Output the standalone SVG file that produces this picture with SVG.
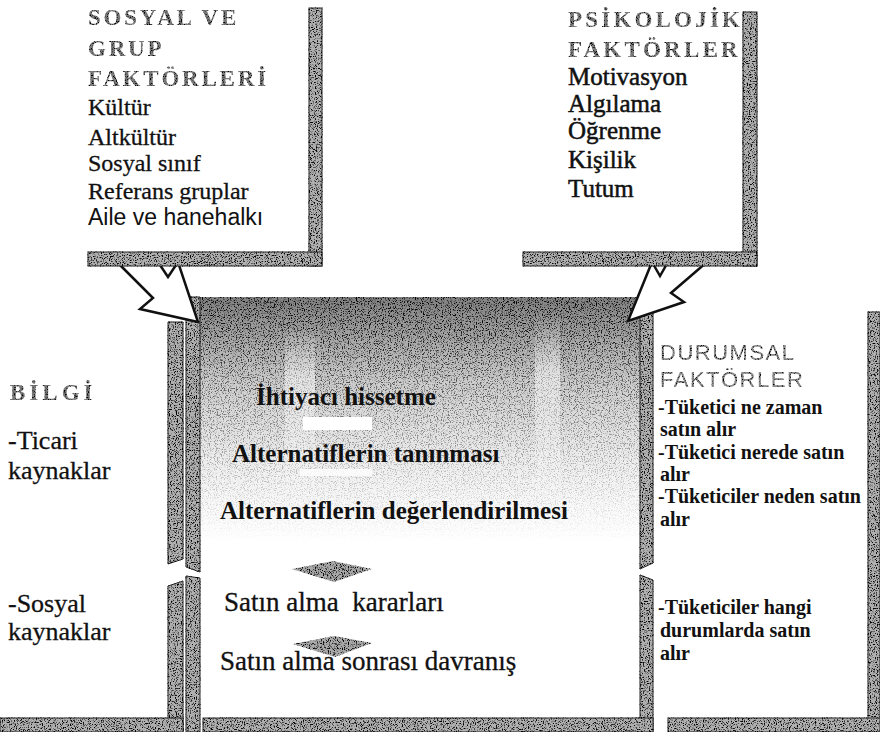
<svg xmlns="http://www.w3.org/2000/svg" width="880" height="732" viewBox="0 0 880 732">
  <defs>
    <!-- salt-and-pepper print texture for the shaded frames -->
    <filter id="grain" x="-5%" y="-5%" width="110%" height="110%" color-interpolation-filters="sRGB">
      <feTurbulence type="fractalNoise" baseFrequency="0.85" numOctaves="2" seed="4" result="noise"/>
      <feColorMatrix in="noise" type="matrix" values="0 0 0 0 0  0 0 0 0 0  0 0 0 0 0  -5 0 0 0 2.45" result="dots"/>
      <feComposite in="dots" in2="SourceGraphic" operator="in" result="ink"/>
      <feMerge><feMergeNode in="SourceGraphic"/><feMergeNode in="ink"/></feMerge>
    </filter>
    <linearGradient id="fade" x1="0" y1="0" x2="0" y2="1">
      <stop offset="0" stop-color="#808080" stop-opacity="1"/>
      <stop offset="0.14" stop-color="#949494" stop-opacity="0.9"/>
      <stop offset="0.35" stop-color="#aaaaaa" stop-opacity="0.6"/>
      <stop offset="0.7" stop-color="#c0c0c0" stop-opacity="0.25"/>
      <stop offset="1" stop-color="#d0d0d0" stop-opacity="0"/>
    </linearGradient>
    <linearGradient id="streak" x1="0" y1="0" x2="0" y2="1">
      <stop offset="0" stop-color="#fff" stop-opacity="0"/>
      <stop offset="0.3" stop-color="#fff" stop-opacity="0.5"/>
      <stop offset="1" stop-color="#fff" stop-opacity="0"/>
    </linearGradient>
    <style>
      .bar { fill: #b0b0b0; stroke: #2a2a2a; stroke-width: 1; }
      .head { font-family: "Liberation Serif", "Times New Roman", serif; font-size: 23px; font-weight: bold; fill: #7a7a7a; }
      .shead { font-family: "Liberation Sans", Arial, sans-serif; font-size: 22px; fill: #8a8a8a; letter-spacing: 1.5px; }
      .item { font-family: "Liberation Serif", "Times New Roman", serif; fill: #111; }
      .sans { font-family: "Liberation Sans", Arial, sans-serif; fill: #111; }
      .thick { stroke: #111; stroke-width: 0.3px; }
      .dark { stroke: #111; stroke-width: 0.5px; }
      .arrow { fill: #fff; stroke: #111; stroke-width: 2.5; stroke-linejoin: miter; }
      .chev { fill: #a8a8a8; }
    </style>
  </defs>

  <rect width="880" height="732" fill="#fff"/>

  <!-- decision process (centre) -->
  <g id="karar-sureci">
    <g filter="url(#grain)">
      <rect x="188" y="297" width="465" height="245" fill="url(#fade)"/>
      <polygon class="bar" points="186,297 200,297 200,572 186,567"/>
      <polygon class="bar" points="186,576 200,578 200,732 186,732"/>
      <polygon class="bar" points="640,297 653,297 653,563 640,569"/>
      <polygon class="bar" points="640,575 653,580 653,732 640,732"/>
      <rect class="bar" x="203" y="718" width="450" height="14"/>
    </g>
    <rect x="285" y="325" width="30" height="180" fill="url(#streak)"/>
    <rect x="535" y="315" width="25" height="200" fill="url(#streak)"/>
    <rect x="303" y="417" width="69" height="13" fill="#fff"/>
    <rect x="300" y="469" width="72" height="7" fill="#fff" opacity="0.8"/>
    <g class="item" font-weight="bold">
      <text x="256" y="405" font-size="25">İhtiyacı hissetme</text>
      <text x="232" y="462" font-size="25">Alternatiflerin tanınması</text>
      <text x="220" y="519" font-size="25">Alternatiflerin değerlendirilmesi</text>
    </g>
    <text class="item thick" x="224" y="611" font-size="27" xml:space="preserve">Satın alma  kararları</text>
    <text class="item thick" x="220" y="670" font-size="27">Satın alma sonrası davranış</text>
  </g>

  <!-- information sources -->
  <g id="bilgi">
    <g filter="url(#grain)">
      <polygon class="bar" points="168,322 183,322 183,559 168,564"/>
      <polygon class="bar" points="168,586 183,581 183,732 168,732"/>
      <rect class="bar" x="0" y="718" width="183" height="14"/>
    </g>
    <text class="head" x="10" y="400" letter-spacing="4" filter="url(#grain)">BİLGİ</text>
    <g class="item thick" font-size="26">
      <text x="8" y="449">-Ticari</text>
      <text x="8" y="479">kaynaklar</text>
      <text x="8" y="612">-Sosyal</text>
      <text x="8" y="640">kaynaklar</text>
    </g>
  </g>

  <!-- situational factors -->
  <g id="durumsal">
    <g filter="url(#grain)">
      <rect class="bar" x="868" y="312" width="12" height="420"/>
      <rect class="bar" x="668" y="718" width="212" height="14"/>
    </g>
    <g filter="url(#grain)">
      <text class="shead" x="660" y="360">DURUMSAL</text>
      <text class="shead" x="660" y="387">FAKTÖRLER</text>
    </g>
    <g class="item" font-size="20" font-weight="bold">
      <text x="658" y="414">-Tüketici ne zaman</text>
      <text x="660" y="436">satın alır</text>
      <text x="658" y="459">-Tüketici nerede satın</text>
      <text x="660" y="481">alır</text>
      <text x="658" y="503">-Tüketiciler neden satın</text>
      <text x="660" y="526">alır</text>
      <text x="658" y="614">-Tüketiciler hangi</text>
      <text x="660" y="637">durumlarda satın</text>
      <text x="660" y="660">alır</text>
    </g>
  </g>

  <!-- connectors: block arrows into the process and step chevrons -->
  <g id="connectors">
    <polygon class="arrow" points="117,262 153,298 140,309 198,322 178,262 168,277 158,262"/>
    <polygon class="arrow" points="652,262 628,321 684,302 671,293 707,262 668,262 660,276"/>
    <g filter="url(#grain)">
      <polygon class="chev" points="292,569 333,561 372,569 334,582"/>
      <polygon class="chev" points="293,644 334,636 372,643 335,657"/>
    </g>
  </g>

  <!-- social and group factors -->
  <g id="sosyal-grup">
    <g filter="url(#grain)">
      <rect class="bar" x="309" y="8" width="13" height="258"/>
      <rect class="bar" x="88" y="252" width="234" height="14"/>
    </g>
    <g class="head" letter-spacing="2.8" filter="url(#grain)">
      <text x="88" y="25">SOSYAL VE</text>
      <text x="88" y="56">GRUP</text>
      <text x="88" y="86">FAKTÖRLERİ</text>
    </g>
    <g class="item thick" font-size="24">
      <text x="88" y="115">Kültür</text>
      <text x="88" y="145">Altkültür</text>
      <text x="88" y="171">Sosyal sınıf</text>
      <text x="88" y="199">Referans gruplar</text>
    </g>
    <text class="sans" font-size="23" x="88" y="225">Aile ve hanehalkı</text>
  </g>

  <!-- psychological factors -->
  <g id="psikolojik">
    <g filter="url(#grain)">
      <rect class="bar" x="743" y="12" width="14" height="254"/>
      <rect class="bar" x="523" y="252" width="234" height="14"/>
    </g>
    <g class="head" letter-spacing="3.2" filter="url(#grain)">
      <text x="568" y="27">PSİKOLOJİK</text>
      <text x="568" y="57">FAKTÖRLER</text>
    </g>
    <g class="item dark" font-size="25">
      <text x="568" y="85">Motivasyon</text>
      <text x="568" y="112">Algılama</text>
      <text x="568" y="139">Öğrenme</text>
      <text x="568" y="168">Kişilik</text>
      <text x="568" y="197">Tutum</text>
    </g>
  </g>
</svg>
